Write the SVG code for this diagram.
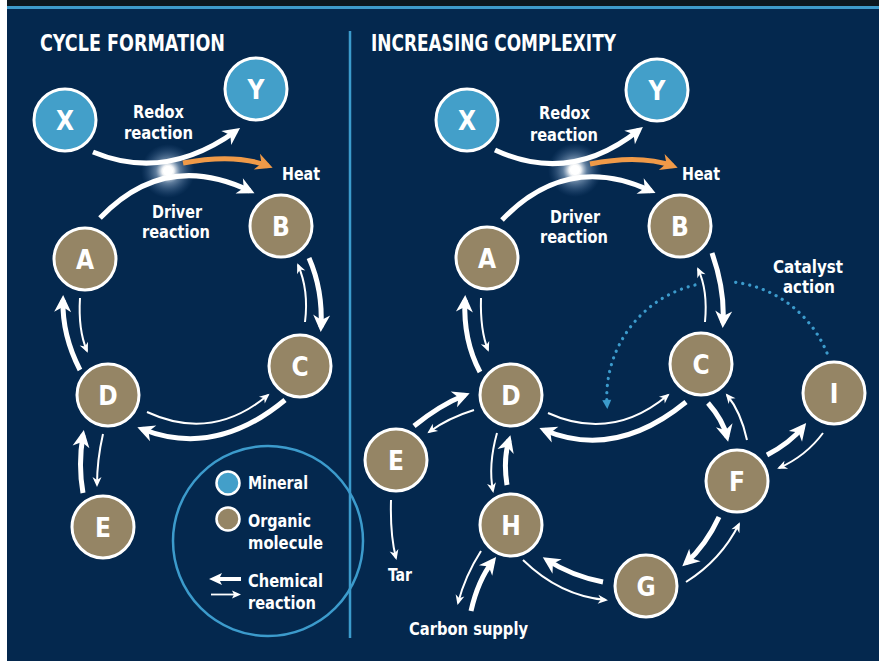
<svg xmlns="http://www.w3.org/2000/svg" width="879" height="661" viewBox="0 0 879 661">
<defs>
<style>
.t{font-family:"DejaVu Sans Condensed","DejaVu Sans",sans-serif;font-weight:bold;fill:#ffffff;}
.lab{font-size:17px;}
.ttl{font-size:22.5px;}
.ltr{font-size:26px;text-anchor:middle;}
.min{fill:#439fc9;stroke:#ffffff;stroke-width:3;}
.org{fill:#958565;stroke:#ffffff;stroke-width:3;}
.thick{fill:none;stroke:#ffffff;stroke-width:5;marker-end:url(#hk);}
.thin{fill:none;stroke:#ffffff;stroke-width:2;marker-end:url(#hn);}
.heat{fill:none;stroke:#f09a48;stroke-width:5;marker-end:url(#ho);}
.dot{fill:none;stroke:#3c9bcc;stroke-width:3.2;stroke-linecap:round;stroke-dasharray:0.1 7;}
</style>
<marker id="hk" markerUnits="userSpaceOnUse" markerWidth="20" markerHeight="20" viewBox="0 -10 18 20" refX="12" refY="0" orient="auto" overflow="visible"><path d="M0,-8.5 L17,0 L0,8.5 L5,0 Z" fill="#ffffff"/></marker>
<marker id="ho" markerUnits="userSpaceOnUse" markerWidth="20" markerHeight="20" viewBox="0 -10 18 20" refX="12" refY="0" orient="auto" overflow="visible"><path d="M0,-8.5 L17,0 L0,8.5 L5,0 Z" fill="#f09a48"/></marker>
<marker id="hn" markerUnits="userSpaceOnUse" markerWidth="12" markerHeight="12" viewBox="0 -6 11 12" refX="8" refY="0" orient="auto" overflow="visible"><path d="M0,-4.5 L10,0 L0,4.5 L3,0 Z" fill="#ffffff"/></marker>
<marker id="hb" markerUnits="userSpaceOnUse" markerWidth="12" markerHeight="12" viewBox="0 -6 11 12" refX="4" refY="0" orient="auto" overflow="visible"><path d="M0,-4.5 L9,0 L0,4.5 Z" fill="#3c9bcc"/></marker>
<radialGradient id="glow">
<stop offset="0" stop-color="#ffffff" stop-opacity="1"/>
<stop offset="0.22" stop-color="#ffffff" stop-opacity="0.95"/>
<stop offset="0.45" stop-color="#b8d0ea" stop-opacity="0.5"/>
<stop offset="1" stop-color="#4a74a8" stop-opacity="0"/>
</radialGradient>
</defs>

<!-- background -->
<rect x="0" y="0" width="879" height="661" fill="#04284e"/>
<rect x="0" y="0" width="879" height="6" fill="#0c1820"/>
<rect x="0" y="6" width="879" height="3" fill="#3e9bcb"/>
<rect x="0" y="0" width="7" height="661" fill="#ffffff"/>
<line x1="350" y1="31" x2="350" y2="638" stroke="#3c9bcc" stroke-width="2.5"/>

<!-- titles -->
<text class="t ttl" x="40" y="51" textLength="185" lengthAdjust="spacingAndGlyphs">CYCLE FORMATION</text>
<text class="t ttl" x="371" y="51" textLength="245" lengthAdjust="spacingAndGlyphs">INCREASING COMPLEXITY</text>

<!-- glows -->
<circle cx="168" cy="171" r="27" fill="url(#glow)"/>
<circle cx="575" cy="170" r="27" fill="url(#glow)"/>

<!-- connectors -->
<g id="connectors">
<!-- left panel -->
<path class="thick" d="M93,152 Q165,182 236,131"/>
<path class="heat" d="M183,163 Q235,153 268,166"/>
<path class="thick" d="M100,218 Q165,150 250,191"/>
<path class="thick" d="M309,258 Q323,290 321,327"/>
<path class="thin" d="M305,322 Q309,290 298,265"/>
<path class="thick" d="M285,400 Q215,458 142,429"/>
<path class="thin" d="M147,412 Q212,442 268,395"/>
<path class="thick" d="M80,370 Q62,335 63,300"/>
<path class="thin" d="M80,298 Q78,330 87,351"/>
<path class="thick" d="M83,493 Q78,465 83,435"/>
<path class="thin" d="M103,434 Q97,460 97,485"/>
<!-- right panel -->
<path class="thick" d="M495,150 Q570,185 639,130"/>
<path class="heat" d="M590,164 Q640,154 673,166"/>
<path class="thick" d="M502,220 Q567,152 651,191"/>
<path class="thick" d="M712,253 Q725,290 723,323"/>
<path class="thin" d="M705,322 Q708,290 698,269"/>
<path class="dot" d="M827,353 A115,115 0 0 0 733,282"/>
<path class="dot" d="M695,285 A115,115 0 0 0 607,404" marker-end="url(#hb)"/>
<path class="thick" d="M686,402 Q615,460 544,430"/>
<path class="thin" d="M548,413 Q612,442 668,395"/>
<path class="thick" d="M708,403 Q723,420 727,437"/>
<path class="thin" d="M747,440 Q741,412 727,395"/>
<path class="thick" d="M767,455 Q790,443 803,427"/>
<path class="thin" d="M823,433 Q806,456 779,468"/>
<path class="thick" d="M719,517 Q706,545 686,563"/>
<path class="thin" d="M686,582 Q721,560 739,524"/>
<path class="thick" d="M603,582 Q572,576 547,560"/>
<path class="thin" d="M523,560 Q560,596 606,600"/>
<path class="thick" d="M507,485 Q503,460 509,440"/>
<path class="thin" d="M497,433 Q488,465 493,491"/>
<path class="thick" d="M414,426 Q440,405 465,395"/>
<path class="thin" d="M474,410 Q448,418 429,432"/>
<path class="thin" d="M391,500 Q390,535 396,558"/>
<path class="thick" d="M471,611 Q478,580 493,561"/>
<path class="thin" d="M481,551 Q465,576 458,603"/>
<path class="thick" d="M480,372 Q463,340 465,300"/>
<path class="thin" d="M481,298 Q480,330 488,350"/>
</g>

<!-- glow cores -->
<circle cx="168" cy="171" r="5" fill="#ffffff"/>
<circle cx="575" cy="170" r="5" fill="#ffffff"/>

<!-- left panel nodes -->
<g id="L-X"><circle class="min" cx="65" cy="120" r="31"/><text class="t ltr" x="65" y="129.5">X</text></g>
<g id="L-Y"><circle class="min" cx="256" cy="89" r="31"/><text class="t ltr" x="256" y="98.5">Y</text></g>
<g id="L-A"><circle class="org" cx="85" cy="259" r="31"/><text class="t ltr" x="85" y="268.5">A</text></g>
<g id="L-B"><circle class="org" cx="281" cy="226" r="31"/><text class="t ltr" x="281" y="235.5">B</text></g>
<g id="L-C"><circle class="org" cx="300" cy="366" r="31"/><text class="t ltr" x="300" y="375.5">C</text></g>
<g id="L-D"><circle class="org" cx="108" cy="395" r="31"/><text class="t ltr" x="108" y="404.5">D</text></g>
<g id="L-E"><circle class="org" cx="103" cy="527" r="31"/><text class="t ltr" x="103" y="536.5">E</text></g>

<!-- right panel nodes -->
<g id="R-X"><circle class="min" cx="467" cy="120" r="31"/><text class="t ltr" x="467" y="129.5">X</text></g>
<g id="R-Y"><circle class="min" cx="657" cy="90" r="31"/><text class="t ltr" x="657" y="99.5">Y</text></g>
<g id="R-A"><circle class="org" cx="487" cy="258" r="31"/><text class="t ltr" x="487" y="267.5">A</text></g>
<g id="R-B"><circle class="org" cx="680" cy="226" r="31"/><text class="t ltr" x="680" y="235.5">B</text></g>
<g id="R-C"><circle class="org" cx="701" cy="364" r="31"/><text class="t ltr" x="701" y="373.5">C</text></g>
<g id="R-D"><circle class="org" cx="511" cy="395" r="31"/><text class="t ltr" x="511" y="404.5">D</text></g>
<g id="R-E"><circle class="org" cx="396" cy="460" r="31"/><text class="t ltr" x="396" y="469.5">E</text></g>
<g id="R-F"><circle class="org" cx="737" cy="481" r="31"/><text class="t ltr" x="737" y="490.5">F</text></g>
<g id="R-G"><circle class="org" cx="646" cy="586" r="31"/><text class="t ltr" x="646" y="595.5">G</text></g>
<g id="R-H"><circle class="org" cx="511" cy="525" r="31"/><text class="t ltr" x="511" y="534.5">H</text></g>
<g id="R-I"><circle class="org" cx="834" cy="393" r="31"/><text class="t ltr" x="834" y="402.5">I</text></g>

<!-- labels -->
<g id="labels">
<text class="t lab" x="133" y="118" textLength="51" lengthAdjust="spacingAndGlyphs">Redox</text>
<text class="t lab" x="124" y="139" textLength="69" lengthAdjust="spacingAndGlyphs">reaction</text>
<text class="t lab" x="282" y="180" textLength="38" lengthAdjust="spacingAndGlyphs">Heat</text>
<text class="t lab" x="152" y="218" textLength="50" lengthAdjust="spacingAndGlyphs">Driver</text>
<text class="t lab" x="142" y="238" textLength="68" lengthAdjust="spacingAndGlyphs">reaction</text>

<text class="t lab" x="539" y="119" textLength="51" lengthAdjust="spacingAndGlyphs">Redox</text>
<text class="t lab" x="530" y="141" textLength="68" lengthAdjust="spacingAndGlyphs">reaction</text>
<text class="t lab" x="682" y="180" textLength="38" lengthAdjust="spacingAndGlyphs">Heat</text>
<text class="t lab" x="550" y="223" textLength="50" lengthAdjust="spacingAndGlyphs">Driver</text>
<text class="t lab" x="540" y="243" textLength="68" lengthAdjust="spacingAndGlyphs">reaction</text>
<text class="t lab" x="773" y="273" textLength="70" lengthAdjust="spacingAndGlyphs">Catalyst</text>
<text class="t lab" x="783" y="293" textLength="52" lengthAdjust="spacingAndGlyphs">action</text>
<text class="t lab" x="388" y="581" textLength="24" lengthAdjust="spacingAndGlyphs">Tar</text>
<text class="t lab" x="409" y="635" textLength="119" lengthAdjust="spacingAndGlyphs">Carbon supply</text>
</g>

<!-- legend -->
<g id="legend">
<circle cx="268" cy="541" r="95" fill="none" stroke="#3c9bcc" stroke-width="2.5"/>
<circle class="min" cx="228" cy="483" r="11.5" style="stroke-width:2.5"/>
<text class="t lab" x="248" y="489" textLength="60" lengthAdjust="spacingAndGlyphs">Mineral</text>
<circle class="org" cx="228" cy="519" r="11.5" style="stroke-width:2.5"/>
<text class="t lab" x="248" y="527" textLength="63" lengthAdjust="spacingAndGlyphs">Organic</text>
<text class="t lab" x="248" y="549" textLength="75" lengthAdjust="spacingAndGlyphs">molecule</text>
<line x1="241" y1="579" x2="218" y2="579" stroke="#ffffff" stroke-width="4"/>
<path d="M209,579 L222,573 L219,579 L222,585 Z" fill="#ffffff"/>
<line x1="211" y1="594.5" x2="234" y2="594.5" stroke="#ffffff" stroke-width="1.8"/>
<path d="M241,594.5 L232,590.5 L234,594.5 L232,598.5 Z" fill="#ffffff"/>
<text class="t lab" x="248" y="587" textLength="75" lengthAdjust="spacingAndGlyphs">Chemical</text>
<text class="t lab" x="248" y="609" textLength="68" lengthAdjust="spacingAndGlyphs">reaction</text>
</g>
</svg>
